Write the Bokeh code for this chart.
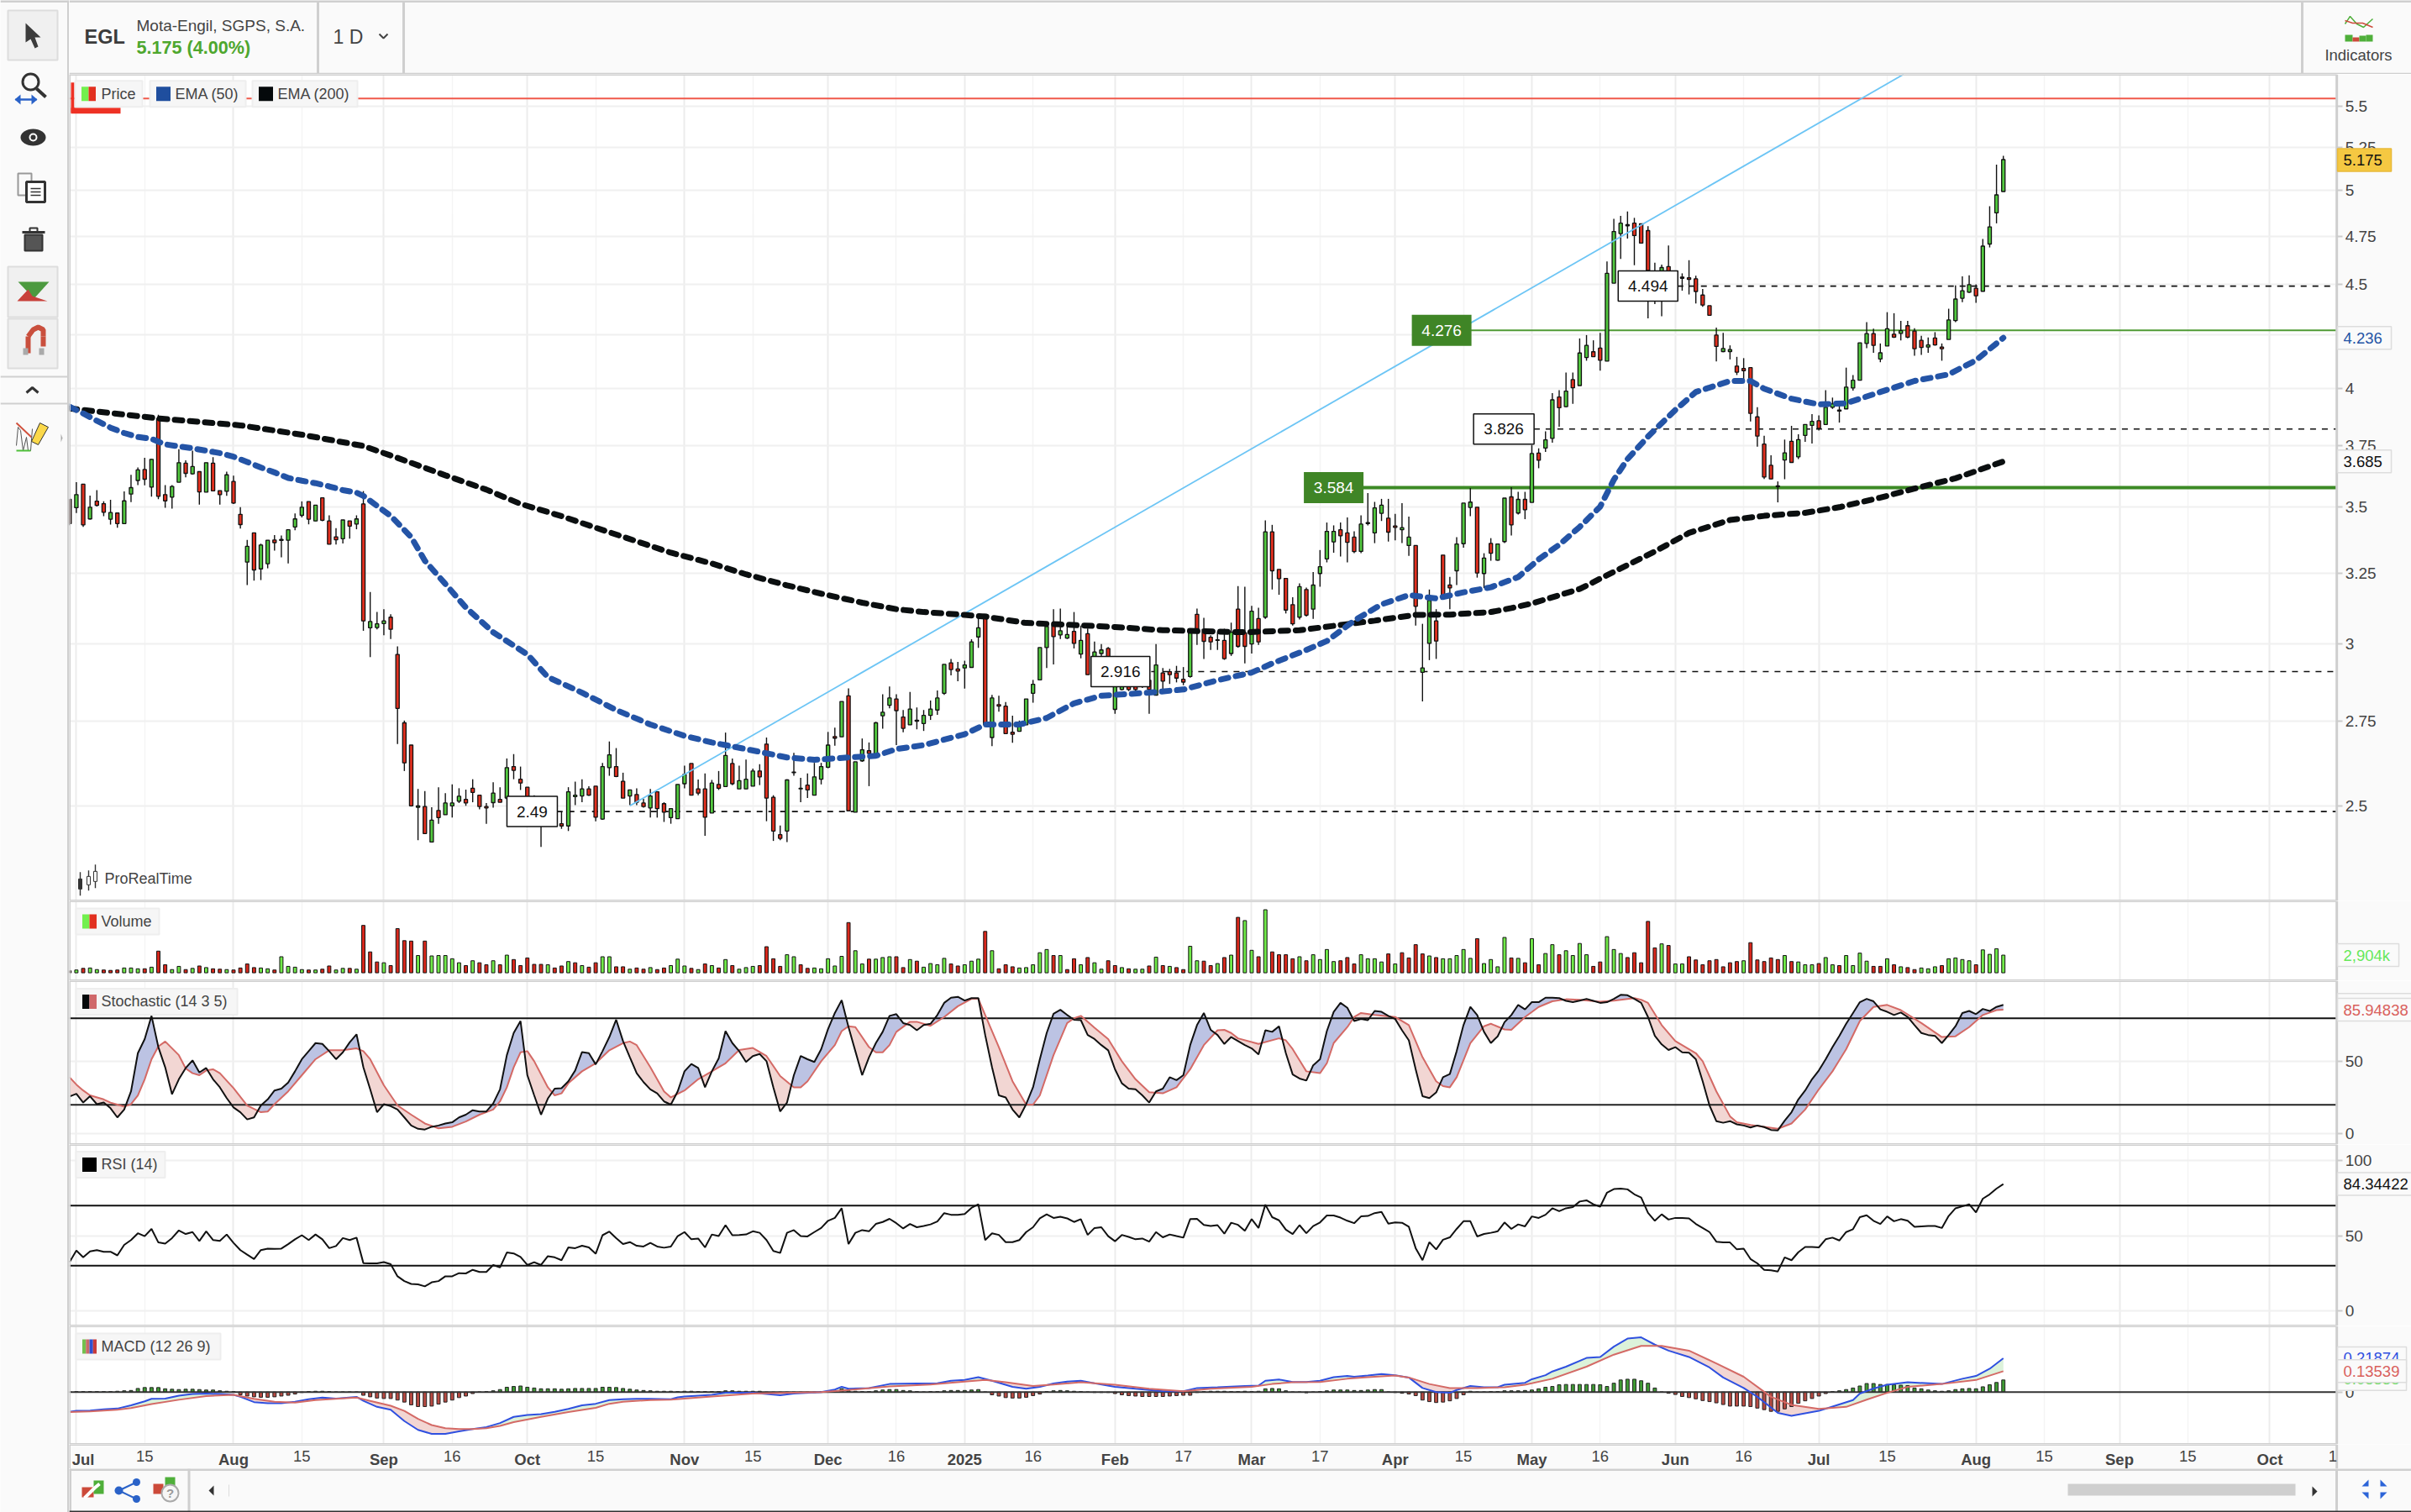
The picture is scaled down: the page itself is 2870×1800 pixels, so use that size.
import numpy as np
from bokeh.core.properties import value
from bokeh.embed import file_html
from bokeh.layouts import column, row
from bokeh.models import (ColumnDataSource, FixedTicker, Grid, LinearAxis, LogAxis, Range1d)
from bokeh.plotting import figure
from bokeh.resources import INLINE

# ---------------------------------------------------------------- data (bar -1 = 28 Jun 2024)
direction = ("rgrgrrgrgg" "grgrrggrgr" "grrgrrgrgg" "rggggrgrrr" "grgrgggrrr" "rgrgrgggrr" "rrgrgrrrgr"
             "ggrgggrrgg" "rrgrrgrrgg" "grrrgrgrgg" "grrrrgggrg" "ggrgrggrgg" "grrggggggr" "rgggrgrrrg"
             "ggggrggrgr" "ggrggrrgrg" "rrrrgrrrgr" "grrgrgrrrr" "grggggrrrg" "gggrrggrgg" "rrrgggrgrg"
             "grgrgrggrg" "rggrrggggr" "rrrgrgrrrr" "rrggrrrrrr" "ggrgggrggr" "ggggrggrgr" "rrgrrggggr" "gggg")
body_top = [3.531,3.55,3.592,3.5,3.524,3.514,3.479,3.477,3.525,3.578,3.65,3.652,3.694,3.868,3.55,3.583,3.68,3.678,3.664,3.643,
3.68,3.678,3.566,3.63,3.603,3.472,3.349,3.40,3.354,3.372,3.373,3.375,3.412,3.454,3.5,3.522,3.508,3.537,3.446,3.385,
3.45,3.446,3.454,3.513,3.077,3.069,3.079,3.092,2.965,2.745,2.677,2.5,2.498,2.46,2.487,2.508,2.508,2.527,2.518,2.55,
2.53,2.498,2.536,2.518,2.61,2.613,2.576,2.553,2.52,2.51,2.50,2.49,2.45,2.54,2.53,2.548,2.548,2.556,2.613,2.648,
2.613,2.57,2.545,2.532,2.508,2.528,2.54,2.506,2.492,2.561,2.59,2.622,2.548,2.548,2.565,2.561,2.646,2.622,2.572,2.576,
2.6,2.6,2.68,2.524,2.42,2.574,2.597,2.55,2.559,2.583,2.613,2.677,2.703,2.812,2.83,2.627,2.663,2.66,2.745,2.778,
2.823,2.82,2.763,2.788,2.753,2.768,2.788,2.823,2.932,2.937,2.917,2.93,3.007,3.055,3.102,2.823,2.802,2.797,2.716,2.734,
2.82,2.867,2.988,3.06,3.063,3.045,3.032,3.043,3.012,3.035,2.973,2.98,2.985,2.863,2.87,2.86,2.865,2.88,2.88,2.93,
2.904,2.908,2.904,2.883,3.045,3.102,3.05,3.023,3.014,3.012,3.04,3.12,3.038,3.113,3.087,3.404,3.404,3.263,3.23,3.136,
3.2,3.19,3.206,3.273,3.406,3.406,3.412,3.4,3.384,3.434,3.44,3.497,3.508,3.457,3.427,3.42,3.384,3.352,2.92,3.151,
3.079,3.316,3.206,3.358,3.516,3.52,3.5,3.305,3.36,3.358,3.536,3.541,3.531,3.531,3.718,3.72,3.776,3.95,3.963,3.989,
4.041,4.164,4.2,4.17,4.187,4.555,4.775,4.82,4.812,4.82,4.817,4.78,4.52,4.585,4.59,4.52,4.536,4.532,4.527,4.445,
4.392,4.249,4.185,4.18,4.103,4.092,4.096,3.875,3.758,3.669,3.585,3.721,3.77,3.777,3.842,3.855,3.858,3.917,3.932,3.905,
4.007,4.038,4.212,4.256,4.256,4.165,4.279,4.253,4.27,4.294,4.268,4.224,4.202,4.235,4.192,4.322,4.425,4.467,4.497,4.479,
4.697,4.80,4.976,5.178]
body_bottom = [3.436,3.498,3.431,3.454,3.507,3.48,3.453,3.436,3.436,3.552,3.607,3.612,3.58,3.543,3.525,3.54,3.6,3.636,3.634,3.561,
3.56,3.565,3.55,3.563,3.516,3.432,3.29,3.261,3.265,3.284,3.363,3.371,3.372,3.423,3.468,3.453,3.446,3.449,3.357,3.374,
3.378,3.426,3.434,3.079,3.055,3.056,3.07,3.05,2.79,2.624,2.5,2.496,2.423,2.40,2.467,2.475,2.5,2.513,2.508,2.538,
2.498,2.494,2.509,2.51,2.522,2.602,2.565,2.522,2.50,2.49,2.485,2.48,2.444,2.444,2.526,2.528,2.53,2.468,2.463,2.61,
2.584,2.522,2.528,2.51,2.498,2.494,2.492,2.482,2.467,2.464,2.563,2.53,2.536,2.468,2.48,2.55,2.555,2.563,2.548,2.548,
2.556,2.583,2.522,2.43,2.41,2.43,2.595,2.548,2.545,2.53,2.576,2.611,2.698,2.702,2.486,2.482,2.63,2.652,2.65,2.767,
2.80,2.783,2.728,2.739,2.75,2.743,2.768,2.785,2.838,2.915,2.91,2.92,2.922,3.024,2.739,2.70,2.797,2.712,2.71,2.719,
2.739,2.838,2.881,2.988,3.025,3.031,3.02,3.002,2.966,2.898,2.915,2.968,2.935,2.787,2.85,2.85,2.85,2.86,2.85,2.832,
2.877,2.898,2.887,2.874,2.892,3.05,3.009,3.007,3.012,2.951,2.968,2.992,2.992,3.0,3.007,3.092,3.258,3.229,3.117,3.069,
3.092,3.099,3.12,3.248,3.302,3.366,3.389,3.364,3.329,3.33,3.436,3.4,3.476,3.403,3.421,3.412,3.352,3.13,2.906,3.002,
3.01,3.162,3.196,3.258,3.359,3.499,3.25,3.248,3.323,3.297,3.367,3.431,3.477,3.49,3.519,3.69,3.741,3.782,3.915,3.92,
4.004,4.014,4.143,4.147,4.13,4.126,4.505,4.764,4.806,4.753,4.713,4.57,4.415,4.45,4.50,4.50,4.53,4.524,4.463,4.395,
4.345,4.195,4.171,4.171,4.075,4.082,3.89,3.792,3.621,3.613,3.582,3.691,3.681,3.704,3.795,3.838,3.825,3.842,3.917,3.9,
3.91,4.003,4.038,4.209,4.2,4.136,4.197,4.239,4.257,4.239,4.184,4.19,4.192,4.202,4.184,4.228,4.319,4.429,4.459,4.441,
4.464,4.708,4.876,4.995]
high = [3.531,3.60,3.592,3.546,3.568,3.523,3.529,3.477,3.563,3.63,3.66,3.70,3.696,3.884,3.588,3.588,3.736,3.69,3.73,3.643,
3.68,3.703,3.566,3.643,3.627,3.5,3.373,3.40,3.359,3.372,3.392,3.39,3.412,3.475,3.523,3.522,3.508,3.537,3.468,3.418,
3.45,3.446,3.468,3.564,3.181,3.11,3.12,3.102,2.992,2.752,2.677,2.548,2.542,2.496,2.553,2.536,2.561,2.55,2.546,2.576,
2.53,2.508,2.567,2.553,2.637,2.65,2.613,2.553,2.53,2.52,2.52,2.50,2.484,2.553,2.569,2.576,2.556,2.556,2.624,2.688,
2.668,2.595,2.545,2.55,2.52,2.548,2.54,2.51,2.492,2.561,2.616,2.622,2.575,2.593,2.574,2.6,2.715,2.637,2.616,2.634,
2.607,2.62,2.70,2.53,2.445,2.576,2.654,2.58,2.593,2.624,2.624,2.717,2.73,2.812,2.854,2.627,2.697,2.685,2.748,2.835,
2.86,2.835,2.785,2.842,2.793,2.785,2.815,2.847,2.932,2.95,2.94,2.944,3.016,3.09,3.102,2.833,2.83,2.81,2.767,2.752,
2.82,2.881,2.988,3.06,3.12,3.122,3.07,3.11,3.063,3.053,3.008,3.0,2.99,2.87,2.88,2.87,2.875,2.89,2.9,3.0,
2.92,2.917,2.927,2.923,3.048,3.122,3.09,3.03,3.043,3.052,3.073,3.202,3.2,3.132,3.125,3.448,3.431,3.263,3.23,3.162,
3.212,3.197,3.253,3.335,3.44,3.429,3.44,3.46,3.406,3.468,3.556,3.521,3.533,3.533,3.474,3.516,3.463,3.352,3.069,3.19,
3.12,3.316,3.236,3.384,3.516,3.576,3.5,3.323,3.38,3.36,3.536,3.58,3.561,3.561,3.754,3.74,3.812,3.98,3.993,4.073,
4.073,4.233,4.249,4.224,4.26,4.616,4.844,4.86,4.884,4.849,4.817,4.804,4.61,4.6,4.7,4.56,4.555,4.623,4.543,4.476,
4.392,4.285,4.26,4.2,4.146,4.14,4.096,3.917,3.793,3.711,3.603,3.777,3.836,3.8,3.842,3.887,3.881,3.993,3.96,3.94,
4.096,4.062,4.212,4.311,4.28,4.209,4.36,4.355,4.318,4.318,4.282,4.246,4.238,4.263,4.209,4.377,4.494,4.54,4.545,4.499,
4.735,4.913,5.149,5.20]
low = [3.43,3.477,3.423,3.452,3.503,3.465,3.432,3.42,3.435,3.52,3.588,3.587,3.542,3.532,3.498,3.494,3.6,3.62,3.631,3.51,
3.56,3.564,3.51,3.545,3.513,3.417,3.206,3.222,3.224,3.267,3.333,3.308,3.285,3.41,3.46,3.433,3.445,3.445,3.357,3.356,
3.36,3.378,3.414,3.045,2.956,3.05,3.03,3.017,2.68,2.6,2.498,2.405,2.423,2.40,2.45,2.475,2.467,2.508,2.5,2.51,
2.49,2.45,2.495,2.51,2.518,2.576,2.545,2.51,2.49,2.387,2.47,2.46,2.436,2.43,2.502,2.51,2.528,2.457,2.461,2.586,
2.582,2.522,2.502,2.502,2.495,2.467,2.467,2.455,2.45,2.464,2.55,2.53,2.53,2.417,2.48,2.545,2.555,2.559,2.548,2.548,
2.556,2.559,2.457,2.403,2.405,2.4,2.586,2.51,2.522,2.53,2.561,2.608,2.675,2.702,2.486,2.482,2.627,2.556,2.64,2.727,
2.79,2.677,2.716,2.739,2.725,2.72,2.754,2.77,2.833,2.896,2.877,2.853,2.922,2.987,2.739,2.674,2.78,2.71,2.684,2.719,
2.739,2.808,2.881,2.92,2.932,3.017,3.017,2.985,2.952,2.898,2.915,2.9,2.925,2.773,2.847,2.845,2.845,2.855,2.773,2.832,
2.843,2.868,2.873,2.864,2.888,2.997,2.95,2.98,2.98,2.947,2.96,2.988,2.935,2.968,2.997,3.086,3.19,3.171,3.105,3.063,
3.084,3.094,3.086,3.2,3.289,3.325,3.311,3.289,3.323,3.323,3.429,3.361,3.446,3.367,3.372,3.361,3.313,3.063,2.812,2.946,
2.95,3.162,3.12,3.206,3.344,3.465,3.233,3.195,3.295,3.295,3.361,3.39,3.471,3.453,3.519,3.657,3.725,3.764,3.832,3.917,
3.932,4.014,4.128,4.147,4.082,4.126,4.505,4.63,4.737,4.597,4.71,4.33,4.40,4.34,4.48,4.47,4.467,4.448,4.403,4.387,
4.342,4.125,4.168,4.134,4.062,4.041,3.855,3.747,3.613,3.612,3.519,3.612,3.681,3.695,3.767,3.76,3.816,3.842,3.91,3.85,
3.91,3.991,4.038,4.187,4.165,4.121,4.197,4.235,4.224,4.234,4.151,4.155,4.165,4.199,4.128,4.228,4.311,4.409,4.456,4.406,
4.464,4.69,4.819,4.995]
volume_k = [330,462,726,792,528,462,396,462,792,792,660,660,924,3564,1320,528,1056,528,726,1122,858,660,594,528,462,792,1452,858,792,660,462,2640,1056,924,528,462,462,594,1122,462,726,726,594,
7788,3432,1782,1650,1188,7260,5280,5214,2838,5214,2772,2838,2838,2310,1650,1188,1980,1650,1320,1980,1320,2904,2178,1188,2442,1386,1386,1320,792,1122,1848,1650,1188,924,1650,2640,2640,990,990,594,792,594,858,528,792,1188,
2244,1122,726,528,1452,1188,792,2178,1188,594,858,1056,1188,4290,2310,1056,2970,2640,1320,726,792,660,2310,1122,2706,8250,3630,1452,2244,2244,2508,2640,2640,858,2178,1914,924,1518,1320,2376,1452,1122,1320,1914,2244,6798,3630,660,1320,990,792,858,1320,3300,3828,2838,2838,528,2310,1320,2508,1650,594,1980,1188,858,660,594,594,1122,2574,1188,1056,858,528,4356,1980,1914,1188,1518,2508,2904,9108,8580,3696,2640,10362,3432,2970,2970,2310,2640,1980,2970,2178,3828,1848,1980,
2508,1452,2970,2310,2310,1782,3102,1452,3300,2442,4620,3102,2772,2508,2310,2310,2838,3828,2376,5610,1518,2178,990,5808,2442,2376,1650,5610,1320,3168,4620,2970,3630,2838,4818,2970,1056,1782,5940,3828,3168,2508,3300,1650,8448,4092,4752,4488,1452,1452,2640,2112,1320,1980,2178,990,1650,1848,1980,4950,2112,1848,2442,2178,2838,1848,1782,1320,1320,1518,2508,1320,1188,2838,1188,3234,1914,1056,1056,2310,1320,990,858,528,792,660,990,1188,2310,2442,2178,1980,1320,3762,3036,3960,2904]
stoch_k = [25.7,27.6,21.5,25.9,20.4,21.5,17.6,11.2,16.7,29.3,55.8,65.6,81.7,60,46,27.3,37.7,45.5,50.8,42.4,45.5,37.7,32.1,24.6,18.1,14.8,9.8,11.2,19.5,23.7,29.9,31.2,35.4,43.2,51.6,57.2,62.8,62.2,57.2,51.6,56.4,63.3,68.9,46,30.7,14.8,20.4,19,16.7,11.2,5.6,3.3,2.8,4.7,5.6,7,7.8,11.2,13.1,16.2,15.3,15.3,20.9,30.7,54.4,69.8,78.1,40.5,26.5,13.1,24.3,31.2,31.5,36.3,43.8,56.6,55.8,48,57.2,67,79,64.2,53,41.9,35.7,30.7,27.9,22.3,20.1,
29.3,43.2,48.3,45.5,32.1,43.2,52.2,71.1,62.8,57.2,49.7,53.8,55.2,50.2,32.1,15.3,21.5,40.5,53.8,51.6,49.7,58.6,72.5,83.7,92.6,73.9,57.2,40.5,53,62.8,70.6,81.7,82.9,76.7,75.3,71.7,75.3,76.2,82.3,90.7,94.3,94.9,92.3,94,94,68.4,46,26.5,25.1,16.7,11.2,20.4,32.1,51.6,69.8,83.1,85.9,82.3,79,78.7,68.4,65.6,61.4,57.8,44.6,34.9,31.2,30.7,26.5,21.5,29.3,31.2,39.1,37.1,40.5,61.4,75.3,83.7,72,68.4,62.2,67,64.2,61.4,59.1,55,71.7,70.6,74.5,55.8,41,38.2,36.8,47.4,51.6,71.1,84.5,90.7,
87.3,78.1,79.5,78.7,85.1,84.5,81.7,79.5,71.7,64.7,44.6,25.9,24.6,28.5,39.1,41.3,57.2,75.3,87.9,82.3,70.6,62.8,67.5,77.3,82.3,89.3,86.2,91.2,91.2,94.3,94.3,94,92.1,91.2,92.3,93.5,92.1,90.7,91.2,93.5,96.3,96,93.5,90.7,80.9,67.8,61.9,58,60,56.4,56.1,51.6,36.3,19.5,8.6,7.5,8.6,6.4,5.6,4.2,5.6,4.5,2.5,2.2,8.9,14.8,23.7,29.9,37.7,43.8,51.6,60,67.8,76.2,83.7,91.2,93.5,91.8,86.2,84.5,82.3,84,80.9,75.3,69.8,68.4,67.8,62.8,68.4,74.5,83.7,85.1,82.9,86.5,85.1,87.9,89.3]
stoch_d_bar = [-1,0,1,2,4,5,6,7,8,9,10,11,12,13,15,16,17,18,19,20,21,23,25,27,28,29,31,33,35,37,39,41,42,43,45,47,49,51,53,55,57,59,61,62,63,64,65,66,67,69,70,71,72,74,76,78,80,81,82,84,86,87,
89,91,93,95,97,99,101,103,105,106,107,109,111,112,113,114,116,117,118,119,120,122,123,125,127,129,131,132,133,135,137,139,140,141,143,145,146,147,149,151,153,155,157,159,161,163,165,167,168,169,170,173,176,177,178,180,182,183,184,186,
187,188,190,193,195,197,199,200,201,202,204,206,207,209,210,212,214,216,218,220,223,225,228,229,230,232,234,237,238,240,242,243,245,247,249,251,253,255,257,259,261,263,265,267,270,273,275,277,279,281,282]
stoch_d = [39.1,34,29.9,26.5,23.7,21.5,20.1,18.7,20.4,26.5,37.7,51.6,60.5,63.9,54.4,45.2,41.9,40.5,43.8,44.6,41.9,31.5,19.5,14.8,15.3,20.4,29.3,40.5,51.6,57.8,57.8,59.1,57.2,51.6,33.5,19.5,13.1,7,3.6,4.7,8.4,13.1,16.7,22.3,32.1,46,56.4,57.2,50.2,32.1,26.5,27.9,34.9,43.2,48.8,57.8,62.8,63.9,61.4,46,29.3,25.1,
29.9,37.7,43.2,48.8,58,59.4,53.8,39.9,32.1,32.1,36.3,50.2,61.4,71.1,74.5,73.9,60,56.4,56.4,61.4,70.6,77.6,77.6,74.8,80.9,88.4,93.5,93.5,82.3,60,36.3,20.1,20.1,26.5,54.4,76.7,80.1,81.7,73.4,65.6,50.2,37.7,28.7,27.9,32.1,44.6,61.4,71.7,72,69.8,66.1,62.2,66.1,64.7,58.6,43.2,41.9,48.8,62.8,73.9,
80.9,83.7,82.3,80.9,75.3,53,36.3,32.9,32.1,39.1,62.8,74.5,76.2,72.3,72,80.9,87.9,91.8,93.2,92.9,91.5,92.3,94,92.9,90.7,75.3,64.2,55.8,50.2,29.3,12,7.8,5.9,4.7,3.3,7,16.7,30.7,43.2,58.6,78.1,87.9,89.3,85.7,76.7,67,67.5,73.9,82.3,85.7,85.95]
rsi = [32.4,40.1,35.6,39.6,40.4,39.3,39.3,36.9,43.9,47.1,51.6,49.7,54.5,45.5,44.7,48.4,53.5,51.1,52.4,46.5,52.9,47.1,46.5,50.8,45.2,40.4,37.4,34.5,40.4,41.4,41.2,41.4,44.4,47.6,50.3,47.1,50.8,47.6,41.7,43.1,48.4,47.1,48.7,31.8,31.6,31.6,32.4,31,23,19.8,17.9,17.6,16.3,19,19.8,23,23,25.1,24.9,27.3,25.9,25.9,30.5,28.9,38.8,38.2,35.8,30.5,32.4,30.5,36.4,35.6,33.7,42.2,41.7,43.3,42.2,38,50.3,52.7,48.4,44.4,45.7,43.3,42.8,45.2,42.8,42,42.8,
49.7,52.4,47.6,48.1,42.2,50.8,49.7,57,50.3,50.5,50.8,52.9,51.9,47.1,39.8,38.5,51.9,53.7,49.7,49.5,52.4,55.1,59.9,61.8,68.2,44.4,51.9,53.7,52.9,57.8,59.1,61.2,58.3,54.8,57.8,55.6,56.4,57.5,59.4,65,63.9,63.9,64.4,68.5,70.9,47.1,51.6,50.5,45.7,45.7,47.1,52.4,55.6,61.5,64.2,61.8,62.6,61.5,59.1,61,50.5,55.1,55.6,49.7,46.3,50.5,49.2,47.6,48.1,46,52.4,48.9,50.8,49.7,48.7,61,61.2,57.2,56.4,57,51.3,58.6,57.2,53.2,61,55.1,70.6,62.3,60.2,54,51.1,57,51.6,56.4,58.8,63.4,63.4,62,
59.9,58.3,62.8,63.1,65,65.8,58,58.8,58.6,55.9,41.7,33.7,45.7,40.9,47.3,48.9,54.5,59.6,59.6,49.5,51.1,51.9,52.9,58.8,54.5,57.5,56.2,62.8,61.8,63.9,68.2,66.3,68.2,69,72.7,73.5,70.9,69.3,78.6,81,81.3,80.8,77.5,75.4,65.2,59.9,64.2,60.7,61.8,61.8,61.5,57.8,55.1,52.4,46,45.5,45.5,40.9,41.4,34.5,31.6,27.3,27,26.2,35.6,33.7,39,42.5,42.5,42.2,47.6,48.7,46.8,52.4,54.3,62.3,63.6,59.9,57.8,62.8,59.6,61,59.9,55.9,56.2,56.4,56.4,55.1,63.1,68.2,69.5,70.9,65.5,74.6,77.5,81.3,84.3]
macd_bar = [-1,0,2,4,6,8,10,11,13,15,17,19,21,23,24,26,28,30,32,34,36,38,41,42,44,46,48,50,52,54,56,58,60,62,64,66,68,70,72,74,76,78,80,82,84,87,
88,89,93,95,99,103,105,109,111,112,113,116,119,123,126,128,130,132,134,137,139,141,143,145,147,149,152,155,159,162,164,167,171,173,174,176,178,180,182,184,186,
187,189,191,193,195,196,197,199,201,202,204,206,208,209,212,213,215,216,218,221,223,225,227,229,231,233,236,239,241,244,246,249,251,255,257,260,261,263,265,268,273,276,278,280,282]
macd = [-.128,-.122,-.120,-.112,-.107,-.086,-.060,-.044,-.042,-.023,-.013,-.010,-.013,-.018,-.031,-.065,-.073,-.073,-.063,-.047,-.036,-.042,-.031,-.057,-.096,-.115,-.188,-.245,-.271,-.271,-.255,-.24,-.227,-.201,-.161,-.148,-.143,-.128,-.109,-.086,-.076,-.052,-.047,-.044,-.044,-.047,
-.034,-.029,-.018,-.005,-.005,-.021,-.010,0,.016,.034,.021,.026,.052,.055,.057,.073,.078,.096,.073,.034,.021,.034,.055,.068,.073,.057,.034,.021,.005,.005,.026,.031,.039,.042,.073,.081,.065,.065,.073,.096,.104,
.099,.107,.117,.109,.094,.060,.026,0,-.005,.013,.039,.031,.031,.047,.060,.083,.109,.133,.164,.221,.227,.294,.346,.354,.307,.268,.227,.159,.094,.026,-.031,-.135,-.154,-.122,-.094,-.052,-.010,.023,.047,.063,.052,.086,.104,.151,.219]
signal_bar = [-1,2,6,8,11,15,19,23,26,29,32,35,38,41,43,46,48,50,52,54,56,58,60,62,64,68,72,76,78,80,84,87,
93,99,109,113,119,125,130,133,136,140,143,147,152,157,162,166,172,175,178,182,186,
189,193,195,198,201,205,209,212,216,221,225,229,232,236,240,244,248,251,255,259,262,265,268,273,278,282]
signal = [-.13,-.125,-.115,-.104,-.078,-.05,-.026,-.018,-.044,-.063,-.068,-.052,-.044,-.036,-.057,-.089,-.122,-.174,-.214,-.234,-.24,-.24,-.234,-.219,-.195,-.161,-.13,-.102,-.076,-.063,-.052,-.049,
-.029,-.010,0,.013,.036,.049,.068,.078,.063,.039,.049,.063,.047,.021,.005,.021,.034,.052,.063,.065,.086,
.096,.107,.094,.052,.026,.026,.031,.047,.086,.164,.242,.299,.299,.268,.185,.099,-.031,-.083,-.109,-.096,-.049,-.005,.034,.052,.078,.135]
hist_milli = [0,3,3,3,3,3,3,5,8,10,23,29,29,29,21,18,16,18,18,16,13,13,8,5,3,-18,-26,-31,-34,-34,-31,-26,-21,-13,-3,3,5,5,3,0,0,0,0,-21,-31,-39,-42,-42,-52,-65,-83,-94,-94,-91,-78,-65,-52,-36,-26,-10,0,3,8,16,31,36,39,31,26,21,21,21,18,21,23,23,23,23,31,31,29,23,18,13,10,8,5,5,5,
3,5,5,3,3,3,3,8,8,5,5,5,5,-3,-5,-5,-5,-3,-3,-3,-3,0,3,8,21,8,5,3,3,8,13,16,16,10,8,3,0,3,3,8,10,10,10,13,16,0,-18,-26,-36,-39,-39,-34,-23,-13,3,8,10,8,5,3,0,-3,-3,-3,-10,-18,-23,-26,-29,-29,-29,-29,-26,-23,-21,-21,-3,3,5,5,5,3,3,5,3,5,21,23,21,8,0,0,-5,0,3,8,13,13,
13,10,10,13,16,16,0,-3,-8,-13,-23,-52,-62,-68,-65,-57,-42,-18,5,0,0,3,3,8,8,8,10,13,21,31,36,47,49,49,49,49,49,47,36,57,78,83,83,73,57,26,0,-8,-16,-29,-36,-44,-55,-62,-70,-81,-91,-91,-91,-94,-104,-114,-125,-125,-109,-94,-73,-57,-42,-26,-10,3,8,16,26,39,55,55,49,49,47,44,42,26,21,13,8,5,8,16,21,23,21,34,47,62,78]
ema50_bar = [-1,1,3,5,7,9,11,13,15,17,19,21,23,25,27,29,31,33,35,37,39,41,42,46,49,51,54,57,61,66,69,74,79,84,89,93,98,104,108,113,117,120,124,130,133,138,142,146,150,157,162,167,172,175,180,183,187,191,195,199,203,207,211,214,217,220,223,225,227,230,234,237,242,245,247,251,255,259,264,269,274,278,282]
ema50 = [3.92,3.89,3.858,3.828,3.805,3.788,3.78,3.757,3.748,3.74,3.73,3.72,3.705,3.683,3.66,3.64,3.617,3.606,3.596,3.583,3.568,3.558,3.545,3.466,3.384,3.295,3.21,3.126,3.04,2.965,2.89,2.84,2.785,2.74,2.705,2.685,2.665,2.64,2.633,2.64,2.645,2.665,2.677,2.71,2.74,2.74,2.76,2.806,2.83,2.84,2.85,2.88,2.905,2.935,2.98,3.01,3.08,3.137,3.17,3.158,3.18,3.198,3.235,3.30,3.355,3.423,3.502,3.61,3.695,3.79,3.905,3.985,4.035,4.035,4.0,3.955,3.93,3.935,3.985,4.035,4.065,4.13,4.236]
ema200_bar = [-1,12,24,33,42,47,54,60,65,71,76,82,87,93,98,104,109,115,120,124,130,133,139,144,152,159,164,171,179,185,190,196,201,207,210,213,220,225,231,236,242,247,253,258,264,269,275,282]
ema200 = [3.912,3.868,3.838,3.798,3.75,3.70,3.628,3.57,3.513,3.465,3.42,3.368,3.325,3.285,3.245,3.205,3.175,3.143,3.12,3.11,3.10,3.094,3.072,3.067,3.058,3.047,3.044,3.04,3.047,3.065,3.08,3.10,3.101,3.11,3.124,3.14,3.192,3.254,3.33,3.40,3.45,3.466,3.478,3.50,3.538,3.574,3.616,3.685]
trend_bar = [81, 267.4]
trend_price = [2.5, 5.70]
resistance_price = 5.547
dashed_levels = [2.484, 2.908, 3.822, 4.49]
dashed_start_bar = [70.3, 157.3, 213.3, 234.3]
dashed_texts = ["2.49", "2.916", "3.826", "4.494"]
dashed_box_bar = [66.7, 152.8, 208.9, 230]
green_levels = [4.272, 3.578]
green_texts = ["4.276", "3.584"]
green_box_bar = [199.8, 184.0]
green_start_bar = [204.1, 187.1]
green_widths = [2, 4]
price_ticks = [2.5, 2.75, 3, 3.25, 3.5, 3.75, 4, 4.25, 4.5, 4.75, 5, 5.25, 5.5]
month_bars = [0, 23, 45, 66, 89, 110, 130, 152, 172, 193, 213, 234, 255, 278, 299, 321]
mid_bars = [10, 33, 55, 76, 99, 120, 140, 162, 182, 203, 223, 244, 265, 288, 309]
month_label_bars = [1, 23, 45, 66, 89, 110, 130, 152, 172, 193, 213, 234, 255, 278, 299, 321]
month_labels = ["Jul", "Aug", "Sep", "Oct", "Nov", "Dec", "2025", "Feb", "Mar", "Apr", "May", "Jun", "Jul", "Aug", "Sep", "Oct"]
mid_label_bars = mid_bars + [330.2]
mid_labels = ["15", "15", "16", "15", "15", "16", "16", "17", "17", "15", "16", "16", "15", "15", "15", "1"]

assert len(direction) == len(body_top) == len(body_bottom) == len(high) == len(low) == len(volume_k) == len(hist_milli) == 284, (len(direction), len(body_top), len(body_bottom), len(high), len(low), len(volume_k), len(hist_milli))

# ---------------------------------------------------------------- helpers
FONT = value("Liberation Sans")
GREEN, RED = "#52c93f", "#e2301f"
PANEL = "#fafafa"
LINE = "#cfcfcf"
bars = np.arange(284) - 1
X0, X1, XMAX = -1.033, 330.8, 341.72   # chart area ends at X1, the value strip at XMAX
x_shared = Range1d(X0, XMAX)


def bar_at(px):
    return (px - 90.4) / 8.134


def pane(h, y_range, y_type="linear"):
    p = figure(width=2788, height=h, x_range=x_shared, y_range=y_range, y_axis_type=y_type,
               output_backend="svg", toolbar_location=None, x_axis_location=None, y_axis_location=None,
               min_border_left=0, min_border_right=0, min_border_top=0, min_border_bottom=0,
               background_fill_color="white", border_fill_color=PANEL, outline_line_color=None)
    p.grid.visible = False
    p.add_layout(Grid(dimension=0, ticker=FixedTicker(ticks=mid_bars), grid_line_color="#f4f4f4", grid_line_width=1.5))
    p.add_layout(Grid(dimension=0, ticker=FixedTicker(ticks=month_bars), grid_line_color="#ececec", grid_line_width=2))
    p.quad([X1], [XMAX], [y_range.start], [y_range.end], fill_color=PANEL, line_color=None)
    return p


def frame(p):
    """Separator lines round the chart area; those on the edge are clipped to half their width."""
    lo, hi = p.y_range.start, p.y_range.end
    p.line([X0, X1], [lo, lo], line_color=LINE, line_width=3)
    p.line([X0, X1], [hi, hi], line_color=LINE, line_width=3)
    p.line([X0, X0], [lo, hi], line_color=LINE, line_width=3)
    p.line([X1, X1], [lo, hi], line_color=LINE, line_width=3)


def right_axis(p, ticks, labels, cls=LinearAxis, grid=True):
    ax = cls(ticker=FixedTicker(ticks=ticks), major_label_overrides=dict(zip(ticks, labels)),
             major_label_text_font="Liberation Sans", major_label_text_font_size="19px",
             major_label_text_color="#444444", major_tick_line_color="#cccccc", major_tick_line_width=2,
             major_tick_in=0, major_tick_out=7, minor_tick_line_color=None, axis_line_color=None,
             major_label_standoff=3, fixed_location=X1)
    p.add_layout(ax, "right")
    if grid:
        p.add_layout(Grid(dimension=1, ticker=FixedTicker(ticks=ticks), grid_line_color="#f0f0f0", grid_line_width=2))


def tag(p, y, text, color, width=64, fill=PANEL, border="#dddddd", dy=0):
    cx = bar_at(2782 + width / 2)
    p.rect([cx], [y], width=[width], height=[27], width_units="screen", height_units="screen", fill_color=fill,
           line_color=border, line_width=1.5, level="annotation")
    if text:
        p.text([bar_at(2789)], [y], text=[text], text_font=FONT, text_font_size="18.5px", text_color=color,
               text_align="left", text_baseline="middle", level="annotation")


def chip(p, x0, x1, yc, h, yconv, text, swatch, tx):
    ym = yconv(yc)
    p.rect([bar_at((x0 + x1) / 2)], [ym], width=[x1 - x0], height=[h], width_units="screen", height_units="screen",
           fill_color="#f6f6f6", line_color="#eeeeee", line_width=2)
    n = len(swatch)
    sw = 17 / n
    for k, c in enumerate(swatch):
        p.rect([bar_at(x0 + 7.5 + sw * (k + .5))], [ym], width=[sw], height=[17], width_units="screen",
               height_units="screen", fill_color=c, line_color=None)
    p.text([bar_at(tx)], [ym], text=[text], text_font=FONT, text_font_size="18px", text_color="#444444",
           text_baseline="middle", text_align="left")


def band(p, xa, a, xb, b, above, below):
    xs = np.arange(max(xa[0], xb[0]), min(xa[-1], xb[-1]) + .001, .1)
    ya, yb = np.interp(xs, xa, a), np.interp(xs, xb, b)
    top = np.maximum(ya, yb)
    p.varea(x=xs, y1=yb, y2=top, fill_color=above)
    p.varea(x=xs, y1=ya, y2=top, fill_color=below)


def price_at(py):
    return float(np.exp(1.7047 - (py - 126) / 1056.5))


# ---------------------------------------------------------------- price pane
main = pane(984, Range1d(2.246, 5.70), "log")
right_axis(main, price_ticks, ["2.5", "2.75", "3", "3.25", "3.5", "3.75", "4", "", "4.5", "4.75", "5", "5.25", "5.5"], LogAxis)
main.line([X0, X1], [resistance_price] * 2, line_color="#f0584a", line_width=2)
main.rect([bar_at(113.5)], [price_at(131.5)], width=[59], height=[7], width_units="screen", height_units="screen", fill_color="#ee3124", line_color=None)
main.rect([bar_at(86)], [price_at(116)], width=[4], height=[36], width_units="screen", height_units="screen", fill_color="#ee3124", line_color=None)
for lvl, b0 in zip(dashed_levels, dashed_start_bar):
    main.line([b0, X1], [lvl, lvl], line_color="#111111", line_width=1.6, line_dash="7 7")
for lvl, b0, w in zip(green_levels, green_start_bar, green_widths):
    main.line([b0, X1], [lvl, lvl], line_color="#4f9a35" if w == 2 else "#3c8a25", line_width=w)
colors = [GREEN if d == "g" else RED for d in direction]
candles = ColumnDataSource(dict(x=bars, top=body_top, bottom=body_bottom, high=high, low=low, color=colors))
main.segment("x", "high", "x", "low", source=candles, line_color="#111111", line_width=1.4)
main.vbar("x", .5, "top", "bottom", source=candles, fill_color="color", line_color="#111111", line_width=1.3)
main.line(trend_bar, trend_price, line_color="#6cc5f5", line_width=1.8)
main.line(ema200_bar, ema200, line_color="#0b0f10", line_width=7, line_dash="9 9", line_cap="round")
main.line(ema50_bar, ema50, line_color="#2454a6", line_width=7, line_dash="9 9", line_cap="round")
for lvl, bx, t, w in zip(dashed_levels, dashed_box_bar, dashed_texts, [60, 70, 72, 71]):
    main.rect([bx], [lvl], width=[w], height=[36], width_units="screen", height_units="screen", fill_color="white", line_color="#111111", line_width=1.5)
    main.text([bx], [lvl], text=[t], text_font=FONT, text_font_size="19px", text_color="#111111", text_align="center", text_baseline="middle")
for lvl, bx, t in zip(green_levels, green_box_bar, green_texts):
    main.rect([bx], [lvl], width=[71], height=[37], width_units="screen", height_units="screen", fill_color="#3f8526", line_color=None)
    main.text([bx], [lvl], text=[t], text_font=FONT, text_font_size="19px", text_color="white", text_align="center", text_baseline="middle")
chip(main, 89, 169, 111.5, 31, price_at, "Price", ["#72f04e", RED], 120)
chip(main, 178, 292, 111.5, 31, price_at, "EMA (50)", ["#1f4e9e"], 208)
chip(main, 300, 425, 111.5, 31, price_at, "EMA (200)", ["#05090b"], 330)
for cx, cy, hh in [(95, 1052, 14), (105, 1048, 12), (113, 1043, 14)]:
    main.segment([bar_at(cx)], [price_at(cy - hh)], [bar_at(cx)], [price_at(cy + hh)], line_color="#333333", line_width=1.4)
main.rect([bar_at(95)], [price_at(1052)], width=[4], height=[12], width_units="screen", height_units="screen", fill_color="#333333", line_color="#333333")
main.rect([bar_at(105)], [price_at(1048)], width=[4], height=[10], width_units="screen", height_units="screen", fill_color="white", line_color="#333333")
main.rect([bar_at(113)], [price_at(1043)], width=[4], height=[12], width_units="screen", height_units="screen", fill_color="white", line_color="#333333")
main.text([bar_at(124)], [price_at(1046)], text=["ProRealTime"], text_font=FONT, text_font_size="18px", text_color="#444444", text_baseline="middle")
frame(main)
tag(main, 5.175, "5.175", "#111111", 64, "#f5c842", "#e8b93a")
tag(main, 4.236, "4.236", "#2454a6")
tag(main, 3.685, "3.685", "#111111")

# ---------------------------------------------------------------- volume pane
vol = pane(95, Range1d(-1297, 11813))
closes = [t if d == "g" else b for t, b, d in zip(body_top, body_bottom, direction)]
vol_colors = [RED] + [("#70ea48" if closes[k] >= closes[k - 1] else "#d9281c") for k in range(1, 284)]
vol.vbar(bars, .48, volume_k, 0, fill_color=vol_colors, line_color="#111111", line_width=1)
chip(vol, 90, 189, 1096.5, 31, lambda py: (1157.6 - py) * 138, "Volume", ["#72f04e", RED], 120)
frame(vol)
tag(vol, 2904, "2,904k", "#66e85a", 73)

# ---------------------------------------------------------------- stochastic pane
sto = pane(195, Range1d(-7.6, 106.1))
right_axis(sto, [0, 50], ["0", "50"])
k_bars = np.arange(len(stoch_k)) - 1
band(sto, k_bars, stoch_k, stoch_d_bar, stoch_d, "#bcc3e3", "#f2d6d3")
sto.line([X0, X1], [80, 80], line_color="#111111", line_width=2)
sto.line([X0, X1], [20, 20], line_color="#222222", line_width=2)
sto.line(stoch_d_bar, stoch_d, line_color="#d46a66", line_width=2)
sto.line(k_bars, stoch_k, line_color="#111111", line_width=2)
chip(sto, 90, 282, 1192, 31, lambda py: (1349 - py) / 1.715, "Stochastic (14 3 5)", ["#05090b", "#d0686a"], 120)
frame(sto)
tag(sto, 89.3, "", "#111111", 92)
tag(sto, 85.95, "85.94838", "#d9605c", 92)

# ---------------------------------------------------------------- RSI pane
rs = pane(216, Range1d(-10, 110.6))
right_axis(rs, [0, 50, 100], ["0", "50", "100"])
rs.line([X0, X1], [70, 70], line_color="#111111", line_width=2)
rs.line([X0, X1], [30, 30], line_color="#111111", line_width=2)
rs.line(np.arange(len(rsi)) - 1, rsi, line_color="#111111", line_width=2)
chip(rs, 90, 196, 1386, 31, lambda py: (1560 - py) / 1.79, "RSI (14)", ["#000000"], 120)
frame(rs)
tag(rs, 84.34, "84.34422", "#111111", 92)

# ---------------------------------------------------------------- MACD pane
mac = pane(141, Range1d(-.339, .428))
right_axis(mac, [0], ["0"], grid=False)
band(mac, macd_bar, macd, signal_bar, signal, "#dcf2da", "#f2d6d3")
hist = [v / 1000 for v in hist_milli]
mac.vbar(bars, .48, hist, 0, fill_color=["#3f9b33" if v >= 0 else "#b84a42" for v in hist], line_color="#222222", line_width=1)
mac.line([X0, X1], [0, 0], line_color="#333333", line_width=2)
mac.line(macd_bar, macd, line_color="#2f50e0", line_width=2)
mac.line(signal_bar, signal, line_color="#d46a66", line_width=2)
chip(mac, 90, 262, 1602.5, 31, lambda py: (1656.7 - py) / 184, "MACD (12 26 9)", ["#72c04e", "#c86a6a", "#3050d0", "#c83a3a"], 120)
frame(mac)
tag(mac, .21874, "0.21874", "#2f50e0", 82)
tag(mac, .08335, "0.08335", "#66d85a", 82)
tag(mac, .13539, "0.13539", "#d9605c", 82)

# ---------------------------------------------------------------- date strip
strip = figure(width=2788, height=29, x_range=x_shared, y_range=Range1d(0, 1), output_backend="svg", toolbar_location=None,
               x_axis_location=None, y_axis_location=None, min_border_left=0, min_border_right=0, min_border_top=0,
               min_border_bottom=0, background_fill_color=PANEL, border_fill_color=PANEL, outline_line_color=None)
strip.grid.visible = False
for ticks, labels, style in [(month_label_bars, month_labels, "bold"), (mid_label_bars, mid_labels, "normal")]:
    ax = LinearAxis(ticker=FixedTicker(ticks=ticks), major_label_overrides=dict(zip(ticks, labels)),
                    major_label_text_font="Liberation Sans", major_label_text_font_size="18.5px",
                    major_label_text_font_style=style, major_label_text_color="#444444", major_tick_line_color=None,
                    minor_tick_line_color=None, axis_line_color=None, major_tick_in=0, major_tick_out=0,
                    major_label_standoff=7, fixed_location=1)
    strip.add_layout(ax, "below")
strip.line([X0, X0], [0, 1], line_color=LINE, line_width=3)
strip.line([X1, X1], [0, 1], line_color=LINE, line_width=3)
strip.line([X0, X1], [1, 1], line_color=LINE, line_width=3)


# ---------------------------------------------------------------- chrome
def plain(w, h, xr, yr):
    p = figure(width=w, height=h, x_range=Range1d(*xr), y_range=Range1d(*yr), output_backend="svg", toolbar_location=None,
               x_axis_location=None, y_axis_location=None, min_border=0, background_fill_color=PANEL,
               border_fill_color=PANEL, outline_line_color=None)
    p.grid.visible = False
    return p


header = plain(2788, 88, (82, 2870), (88, 0))
header.line([82, 2870], [1, 1], line_color=LINE, line_width=3)
header.line([82, 2870], [87.5, 87.5], line_color=LINE, line_width=2.5)
for xx in (378, 480, 2740):
    header.line([xx, xx], [2, 88], line_color=LINE, line_width=3)
header.text([100], [43], text=["EGL"], text_font=FONT, text_font_size="23.5px", text_font_style="bold", text_color="#3c3c3c", text_baseline="middle")
header.text([162], [30], text=["Mota-Engil, SGPS, S.A."], text_font=FONT, text_font_size="19px", text_color="#444444", text_baseline="middle")
header.text([162], [56], text=["5.175 (4.00%)"], text_font=FONT, text_font_size="21.6px", text_font_style="bold", text_color="#4ea72e", text_baseline="middle")
header.text([396], [43], text=["1 D"], text_font=FONT, text_font_size="23px", text_color="#444444", text_baseline="middle")
header.line([451, 456, 461], [40, 45, 40], line_color="#444444", line_width=2)
header.text([2807], [65], text=["Indicators"], text_font=FONT, text_font_size="18.5px", text_color="#444444", text_align="center", text_baseline="middle")
header.quad([2791, 2800, 2808, 2816], [2800, 2808, 2816, 2824], [49, 49, 49, 49], [41, 44, 42, 41], fill_color=["#4faf3a", "#cc4a3a", "#4faf3a", "#4faf3a"], line_color=None)
header.line([2791, 2797, 2805, 2813, 2824], [28, 19, 28, 32, 22], line_color="#4faf3a", line_width=1.5)
header.line([2791, 2800, 2812, 2824], [24, 27, 27, 32], line_color="#cc4a3a", line_width=1.5)

bottom = plain(2788, 52, (82, 2870), (1800, 1748))
bottom.quad([2461], [2732], [1780], [1766], fill_color="#cfcfcf", line_color=None)
bottom.patch([2752, 2752, 2758], [1769, 1781, 1775], fill_color="#333333", line_color=None)
bottom.patch([254, 254, 248], [1768, 1780, 1774], fill_color="#333333", line_color=None)
bottom.line([272, 272], [1767, 1781], line_color="#dddddd", line_width=1)
bottom.line([82, 2870], [1749, 1749], line_color=LINE, line_width=3)
bottom.line([224.5, 224.5], [1748, 1800], line_color=LINE, line_width=3)
bottom.line([2781, 2781], [1748, 1800], line_color=LINE, line_width=3)
bottom.line([83, 83], [1748, 1800], line_color=LINE, line_width=3)
bottom.line([82, 2870], [1799, 1799], line_color="#333333", line_width=2)
bottom.quad([97, 111], [111, 123], [1782, 1778], [1770, 1762], fill_color=["#cc4a3a", "#4faf3a"], line_color=None)
bottom.line([100, 112, 118], [1783, 1771, 1766], line_color="white", line_width=4)
bottom.line([162, 141, 162], [1764, 1774, 1784], line_color="#2a62c8", line_width=2)
bottom.scatter([162, 141, 162], [1764, 1774, 1784], size=[9, 10, 9], fill_color="#2a62c8", line_color=None)
bottom.quad([182, 196], [194, 208], [1778, 1772], [1766, 1758], fill_color=["#cc4a3a", "#4faf3a"], line_color=None)
bottom.scatter([202], [1777], size=[20], fill_color="#f6f6f6", line_color="#aaaaaa", line_width=2)
bottom.text([202], [1777], text=["?"], text_font=FONT, text_font_size="15px", text_font_style="bold", text_color="#999999", text_align="center", text_baseline="middle")
for cx, cy, dx, dy in [(2816, 1762, 1, 1), (2836, 1762, -1, 1), (2816, 1783, 1, -1), (2836, 1783, -1, -1)]:
    bottom.patch([cx - 5 * dx + 8 * dx, cx - 5 * dx + 8 * dx, cx - 5 * dx], [cy + 7 * dy - 8 * dy, cy + 7 * dy, cy + 7 * dy], fill_color="#2c64d8", line_color=None)

side = plain(82, 1800, (0, 82), (1800, 0))
side.line([0, 82], [1, 1], line_color=LINE, line_width=3)
side.line([81, 81], [0, 1800], line_color=LINE, line_width=3)
for y0, y1 in [(12, 71), (317, 377), (379, 438)]:
    side.quad([9], [68], [y1], [y0], fill_color="#f0f0f0", line_color="#dddddd", line_width=2)
side.patch([30, 30, 36, 41, 45, 41, 48], [27, 50, 46, 57, 55, 44, 44], fill_color="#3c3c3c", line_color=None)
side.scatter([36], [97], size=[19], fill_color=None, line_color="#333333", line_width=3)
side.line([43, 54], [105, 115], line_color="#333333", line_width=4)
side.line([18, 43], [118, 118], line_color="#2a62c8", line_width=2.5)
side.patch([17, 24, 24], [118, 112, 124], fill_color="#2a62c8", line_color=None)
side.patch([44, 37, 37], [118, 112, 124], fill_color="#2a62c8", line_color=None)
side.ellipse([39], [163], width=[30], height=[20], fill_color="#333333", line_color=None)
side.scatter([39], [163], size=[10], fill_color="white", line_color=None)
side.scatter([39], [163], size=[6], fill_color="#333333", line_color=None)
side.quad([21], [37], [232], [206], fill_color=PANEL, line_color="#999999", line_width=2)
side.quad([31], [53], [240], [216], fill_color="white", line_color="#333333", line_width=3)
side.multi_line([[36, 48]] * 3, [[224, 224], [228, 228], [232, 232]], line_color="#333333", line_width=1.5)
side.quad([29], [50], [298], [279], fill_color="#555555", line_color="#333333", line_width=2)
side.line([26, 53], [276, 276], line_color="#333333", line_width=3)
side.quad([35], [44], [276], [271], fill_color=None, line_color="#333333", line_width=2)
side.patch([21, 58, 40], [335, 335, 355], fill_color="#4c9a3f", line_color=None)
side.patch([20, 56, 38, 33], [358, 358, 352, 344], fill_color="#c8403a", line_color=None)
side.line([33, 33], [420, 400], line_color="#c94f3d", line_width=6)
side.line([33, 39, 45, 51, 51], [400, 392, 389, 392, 400], line_color="#c94f3d", line_width=6)
side.line([51, 51], [400, 412], line_color="#c94f3d", line_width=6)
side.quad([27, 46], [33, 52], [422, 422], [414, 414], fill_color="#aaaaaa", line_color=None)
side.line([0, 82], [448, 448], line_color=LINE, line_width=2)
side.line([0, 82], [480, 480], line_color=LINE, line_width=2)
side.line([31, 38, 45], [467, 461, 467], line_color="#333333", line_width=3)
side.line([19, 37], [503, 520], line_color="#d0503c", line_width=2)
side.line([19, 21, 24, 27, 31, 33, 36, 38], [530, 508, 512, 536, 520, 536, 536, 510], line_color="#555555", line_width=1)
side.line([19, 36], [536, 536], line_color="#4fbf3a", line_width=2)
side.patch([37, 47, 57, 45], [525, 503, 508, 529], fill_color="#fbd84a", line_color="#333333", line_width=1)
side.patch([74, 72, 72], [521, 516, 526], fill_color="#aaaaaa", line_color=None)

panes = column(main, vol, sto, rs, mac, strip, spacing=0)
layout = row(side, column(row(header, spacing=0), panes, row(bottom, spacing=0), spacing=0), spacing=0)
open("out.html", "w").write(file_html(layout, INLINE, "EGL"))
